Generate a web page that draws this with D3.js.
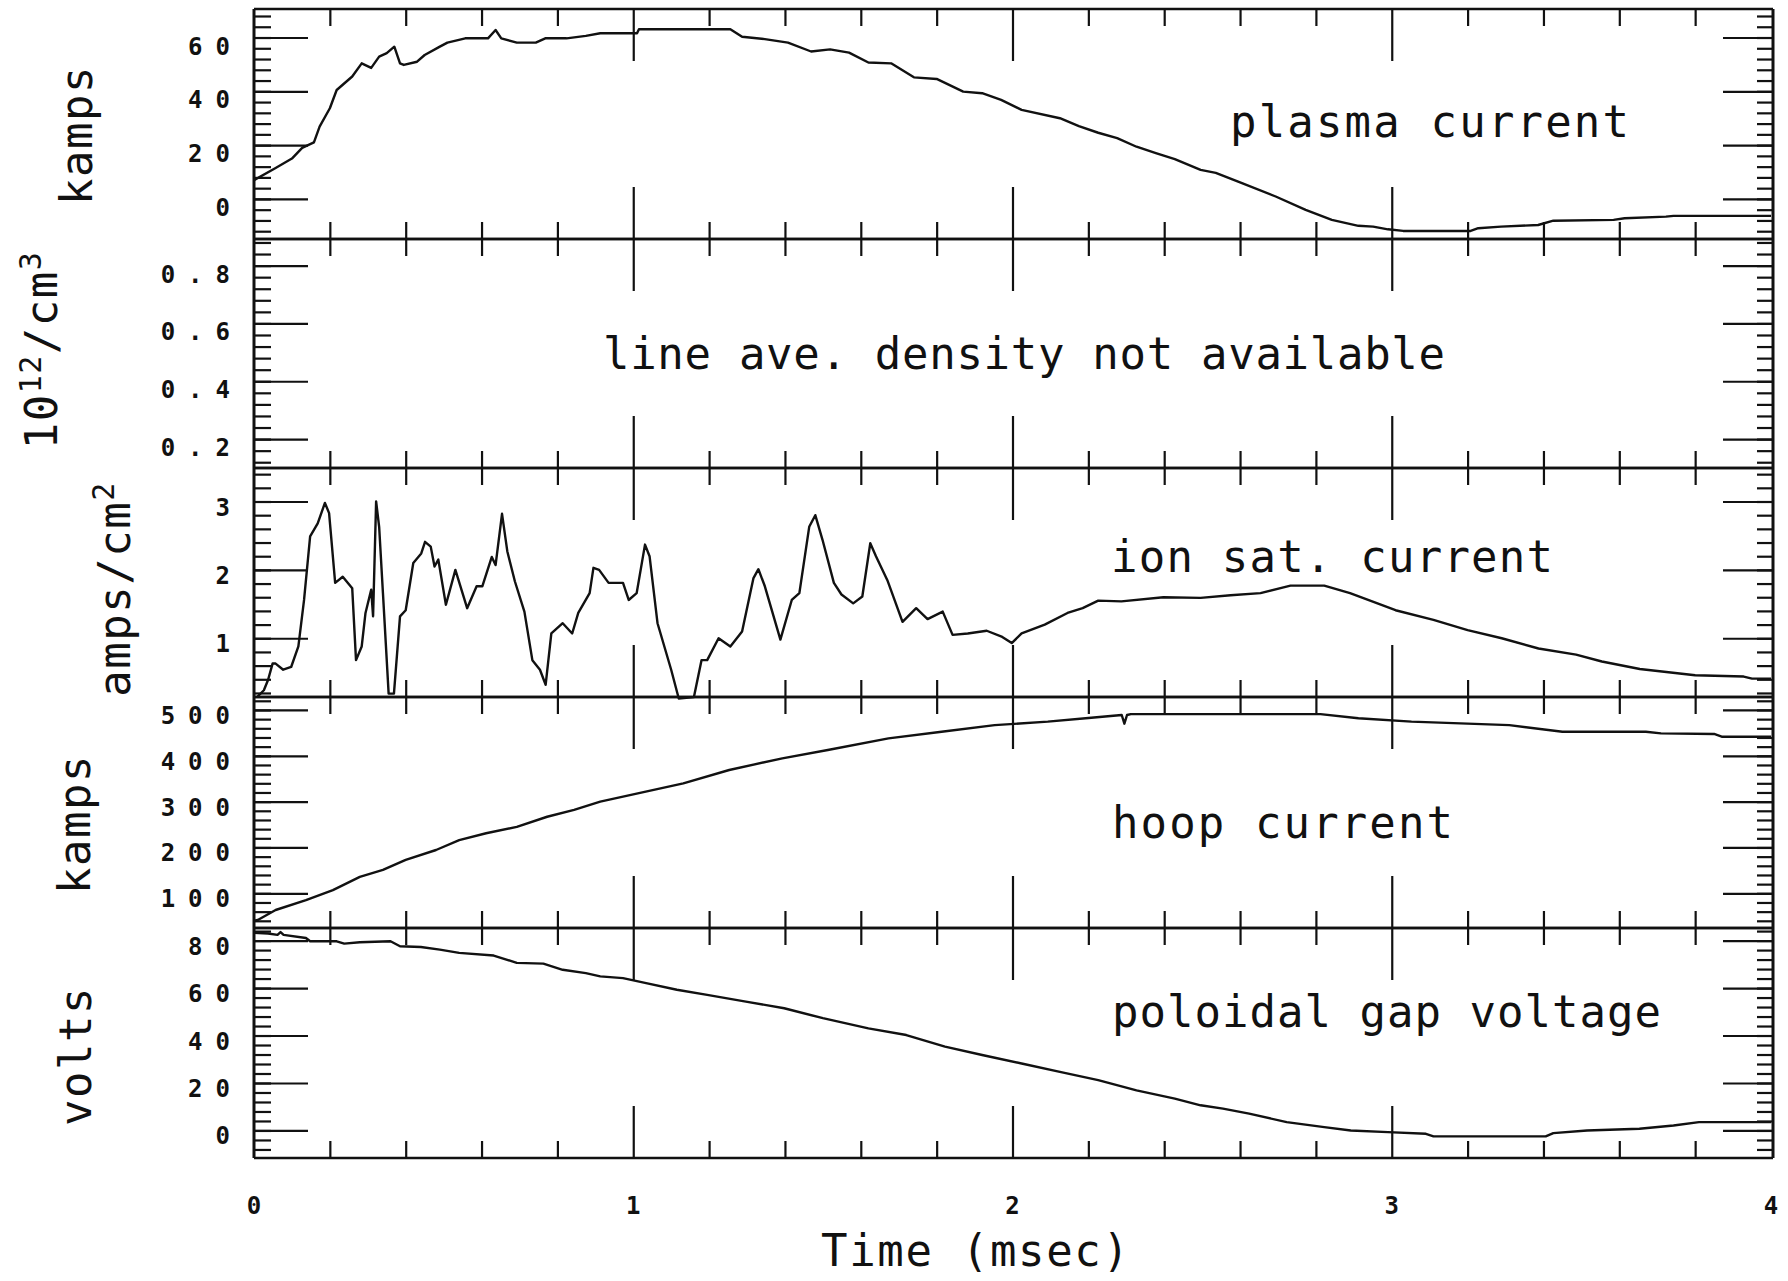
<!DOCTYPE html>
<html><head><meta charset="utf-8">
<script src="https://cdn.jsdelivr.net/npm/d3@7/dist/d3.min.js"></script>
<style>
body{margin:0;background:#fff;}
svg{display:block;background:#fff}
</style>
</head><body>
<svg id="chart" width="1788" height="1281"></svg>
<script>
// ---------------- data (time in msec, value in panel units) ----------------
const timeTicks = [0, 1, 2, 3, 4];
const timeMinorTicks = [0.2,0.4,0.6,0.8,1.2,1.4,1.6,1.8,2.2,2.4,2.6,2.8,3.2,3.4,3.6,3.8];

const plasmaTicks = [0, 20, 40, 60];
const densityTicks = [0.2, 0.4, 0.6, 0.8];
const ionTicks = [1, 2, 3];
const hoopTicks = [100, 200, 300, 400, 500];
const voltTicks = [0, 20, 40, 60, 80];

const plasmaCurrent = [
 [0,7],[0.057,11.5],[0.1,15],[0.127,19],[0.158,21],[0.173,26.9],[0.2,33.7],[0.218,40.5],[0.259,45.5],[0.284,50.4],
 [0.309,48.7],[0.33,52.9],[0.35,54.2],[0.37,56.6],[0.385,50.4],[0.395,49.8],[0.43,51],[0.45,53.5],[0.49,56.6],
 [0.51,58.1],[0.557,59.7],[0.617,59.7],[0.637,62.8],[0.652,59.7],[0.693,58.1],[0.743,58.1],[0.768,59.7],
 [0.824,59.7],[0.875,60.6],[0.913,61.6],[0.973,61.6],[1.01,61.6],[1.015,63.1],[1.256,63.1],[1.287,60.3],
 [1.347,59.4],[1.408,58.1],[1.469,54.8],[1.519,55.6],[1.569,54.4],[1.62,50.7],[1.68,50.4],[1.74,45.2],
 [1.8,44.6],[1.87,39.9],[1.92,39.3],[1.97,36.8],[2.024,33.1],[2.125,30],[2.175,27.1],[2.226,24.6],[2.276,22.6],
 [2.327,19.4],[2.378,17],[2.428,14.8],[2.496,10.8],[2.536,9.7],[2.595,6.4],[2.694,0.9],[2.773,-4.1],
 [2.842,-7.8],[2.912,-10],[2.951,-10.3],[2.99,-11.3],[3.03,-11.9],[3.208,-11.9],[3.228,-10.9],[3.288,-10.3],
 [3.386,-9.7],[3.426,-8.1],[3.585,-7.8],[3.614,-7.2],[3.723,-6.6],[3.743,-6.3],[4.0,-6.3]
];

const ionSatCurrent = [
 [0.008,0.14],[0.026,0.24],[0.037,0.39],[0.049,0.63],[0.057,0.63],[0.077,0.54],[0.098,0.58],[0.117,0.88],
 [0.132,1.56],[0.148,2.49],[0.168,2.68],[0.187,2.98],[0.198,2.83],[0.214,1.81],[0.234,1.9],[0.259,1.73],
 [0.269,0.68],[0.284,0.88],[0.294,1.37],[0.309,1.71],[0.314,1.32],[0.322,3.0],[0.33,2.63],[0.34,1.66],
 [0.355,0.19],[0.369,0.19],[0.385,1.32],[0.4,1.41],[0.42,2.1],[0.441,2.24],[0.451,2.41],[0.466,2.34],
 [0.476,2.05],[0.486,2.15],[0.506,1.49],[0.531,2.0],[0.562,1.44],[0.587,1.76],[0.602,1.76],[0.627,2.19],
 [0.637,2.07],[0.654,2.82],[0.668,2.27],[0.688,1.83],[0.713,1.39],[0.734,0.68],[0.754,0.54],[0.769,0.32],
 [0.784,1.07],[0.814,1.22],[0.839,1.07],[0.855,1.37],[0.885,1.66],[0.895,2.03],[0.91,2.0],[0.935,1.81],
 [0.973,1.81],[0.988,1.56],[1.009,1.66],[1.031,2.37],[1.043,2.2],[1.064,1.22],[1.1,0.54],[1.12,0.12],
 [1.16,0.14],[1.18,0.68],[1.195,0.68],[1.225,1.0],[1.256,0.88],[1.287,1.1],[1.317,1.88],[1.33,2.01],
 [1.347,1.76],[1.388,0.98],[1.418,1.56],[1.438,1.66],[1.464,2.63],[1.48,2.8],[1.499,2.44],[1.529,1.81],
 [1.549,1.64],[1.58,1.51],[1.604,1.61],[1.625,2.39],[1.64,2.2],[1.67,1.85],[1.71,1.24],[1.746,1.44],
 [1.776,1.28],[1.816,1.39],[1.842,1.05],[1.882,1.07],[1.932,1.11],[1.973,1.02],[1.998,0.93],[2.024,1.07],
 [2.085,1.2],[2.145,1.37],[2.185,1.44],[2.226,1.55],[2.287,1.54],[2.398,1.6],[2.496,1.59],[2.575,1.63],
 [2.654,1.66],[2.733,1.77],[2.822,1.77],[2.89,1.66],[3.01,1.41],[3.11,1.27],[3.2,1.12],[3.29,1.0],
 [3.387,0.85],[3.486,0.76],[3.554,0.66],[3.654,0.55],[3.8,0.46],[3.928,0.44],[3.95,0.41],[4.0,0.41]
];

const hoopCurrent = [
 [0,40],[0.01,41.9],[0.057,63.6],[0.137,85],[0.208,107],[0.279,136],[0.34,151],[0.4,173],[0.48,194.5],
 [0.541,216],[0.612,231],[0.693,245],[0.773,267],[0.844,282],[0.913,300],[1.033,321.7],[1.132,340],
 [1.253,369],[1.393,394.5],[1.513,412.7],[1.673,438],[1.813,452.6],[1.953,467],[2.093,474.5],[2.193,481.8],
 [2.288,489],[2.295,470],[2.302,489],[2.312,491],[2.812,491],[2.912,481.8],[3.052,474.5],[3.31,467],
 [3.45,452.6],[3.67,452.6],[3.71,449],[3.85,447.6],[3.87,441.7],[4.0,441.7]
];

const gapVoltage = [
 [0,83.3],[0.037,83],[0.062,82.4],[0.07,83.6],[0.078,82.4],[0.137,81.1],[0.148,79.7],[0.218,79.7],
 [0.238,78.7],[0.279,79.3],[0.36,79.7],[0.385,77.6],[0.44,77.3],[0.49,76.2],[0.541,74.8],[0.632,73.7],
 [0.693,70.6],[0.763,70.3],[0.814,67.7],[0.875,66.3],[0.913,64.9],[0.973,64.2],[1.034,62.1],[1.115,59.3],
 [1.195,57.1],[1.297,54.3],[1.398,51.5],[1.5,47.3],[1.62,43],[1.72,40.2],[1.822,35.3],[1.923,31.7],
 [2.024,28.2],[2.125,24.7],[2.226,21.2],[2.327,16.9],[2.428,13.4],[2.496,10.6],[2.555,9.2],[2.624,7.1],
 [2.723,3.5],[2.822,1.4],[2.892,0],[2.99,-0.7],[3.09,-1.4],[3.11,-2.5],[3.406,-2.5],[3.426,-1.1],
 [3.515,0],[3.653,0.7],[3.743,2.1],[3.81,3.5],[4.0,3.5]
];

const panelTitles = ["plasma current", "line ave. density not available", "ion sat. current", "hoop current", "poloidal gap voltage"];
const axisTitle = "Time (msec)";

// ---------------- layout / style ----------------
const svg = d3.select("#chart");
const INK = "#111";
const x = d3.scaleLinear().domain([0, 4]).range([254, 1771]);
const frameL = 254, frameR = 1773;

const panels = [
  {top: 9,   bottom: 239,  domain: [-14.9, 70.6], ticks: plasmaTicks,  minor: 4,    data: plasmaCurrent, fmt: d3.format("d"),
   title: {x: 1230, y: 137, w: 399}, unit: {x: 92, y: 135}, lab: 10},
  {top: 239, bottom: 468,  domain: [0.1, 0.892],  ticks: densityTicks, minor: 0.04, data: null,          fmt: d3.format(".1f"),
   title: {x: 603, y: 369, w: 842}, unit: {x: 57, y: 350}, lab: 10},
  {top: 468, bottom: 697,  domain: [0.141, 3.49], ticks: ionTicks,     minor: 0.2,  data: ionSatCurrent, fmt: d3.format("d"),
   title: {x: 1111, y: 572, w: 442}, unit: {x: 130, y: 589}, lab: 7},
  {top: 697, bottom: 928,  domain: [24.3, 528.3], ticks: hoopTicks,    minor: 20,   data: hoopCurrent,   fmt: d3.format("d"),
   title: {x: 1112, y: 838, w: 341}, unit: {x: 90, y: 824}, lab: 7},
  {top: 928, bottom: 1158, domain: [-11.6, 85.3], ticks: voltTicks,    minor: 4,    data: gapVoltage,    fmt: d3.format("d"),
   title: {x: 1112, y: 1027, w: 549}, unit: {x: 91, y: 1056}, lab: 7}
];

function minorValues(domain, step) {
  const out = [];
  for (let k = Math.ceil(domain[0] / step - 1e-9); k * step <= domain[1] + 1e-9; k++) out.push(+(k * step).toFixed(6));
  return out;
}

function styleAxis(g) {
  g.select(".domain").remove();
  g.selectAll(".tick line").attr("stroke", INK).attr("stroke-width", 2.2);
  g.selectAll(".tick text").remove();
}

const titleFont = "'DejaVu Sans Mono', 'Liberation Mono', monospace";

panels.forEach((p, i) => {
  const y = d3.scaleLinear().domain(p.domain).range([p.bottom, p.top]);
  const g = svg.append("g");

  // x ticks: top edge (pointing down) and bottom edge (pointing up)
  g.append("g").attr("transform", `translate(0,${p.top})`)
    .call(d3.axisTop(x).tickValues(timeMinorTicks).tickSize(-17)).call(styleAxis);
  g.append("g").attr("transform", `translate(0,${p.top})`)
    .call(d3.axisTop(x).tickValues(timeTicks.slice(1, -1)).tickSize(-52)).call(styleAxis);
  g.append("g").attr("transform", `translate(0,${p.bottom})`)
    .call(d3.axisBottom(x).tickValues(timeMinorTicks).tickSize(-17)).call(styleAxis);
  g.append("g").attr("transform", `translate(0,${p.bottom})`)
    .call(d3.axisBottom(x).tickValues(timeTicks.slice(1, -1)).tickSize(-52)).call(styleAxis);

  // y ticks: left (pointing right) and right (pointing left)
  const minors = minorValues(p.domain, p.minor);
  g.append("g").attr("transform", `translate(${frameL},0)`)
    .call(d3.axisLeft(y).tickValues(minors).tickSize(-17)).call(styleAxis);
  g.append("g").attr("transform", `translate(${frameL},0)`)
    .call(d3.axisLeft(y).tickValues(p.ticks).tickSize(-54)).call(styleAxis);
  g.append("g").attr("transform", `translate(${frameR},0)`)
    .call(d3.axisRight(y).tickValues(minors).tickSize(-16)).call(styleAxis);
  g.append("g").attr("transform", `translate(${frameR},0)`)
    .call(d3.axisRight(y).tickValues(p.ticks).tickSize(-50)).call(styleAxis);

  // y tick labels
  g.append("g").selectAll("text").data(p.ticks).join("text")
    .attr("x", 243).attr("y", d => y(d) + p.lab)
    .attr("text-anchor", "end").attr("dominant-baseline", "middle")
    .attr("font-family", titleFont).attr("font-weight", "bold")
    .attr("font-size", 24).attr("letter-spacing", 13).attr("fill", INK)
    .text(d => p.fmt(d));

  // panel frame
  g.append("line").attr("x1", frameL).attr("x2", frameR).attr("y1", p.top).attr("y2", p.top)
    .attr("stroke", INK).attr("stroke-width", 2.5);
  g.append("line").attr("x1", frameL).attr("x2", frameR).attr("y1", p.bottom).attr("y2", p.bottom)
    .attr("stroke", INK).attr("stroke-width", 2.5);

  // curve
  if (p.data) {
    g.append("path").datum(p.data)
      .attr("fill", "none").attr("stroke", INK).attr("stroke-width", 2.4)
      .attr("stroke-linejoin", "round")
      .attr("d", d3.line().x(d => x(d[0])).y(d => y(d[1])));
  }

  // panel title
  g.append("text").attr("x", p.title.x).attr("y", p.title.y)
    .attr("textLength", p.title.w).attr("lengthAdjust", "spacing")
    .attr("font-family", titleFont).attr("font-size", 44)
    .attr("fill", INK).text(panelTitles[i]);
});

// left / right frame
svg.append("line").attr("x1", frameL).attr("x2", frameL).attr("y1", 9).attr("y2", 1158)
  .attr("stroke", INK).attr("stroke-width", 3);
svg.append("line").attr("x1", frameR).attr("x2", frameR).attr("y1", 9).attr("y2", 1158)
  .attr("stroke", INK).attr("stroke-width", 3);

// unit labels (rotated)
function unitLabel(p, parts) {
  const t = svg.append("text")
    .attr("transform", `translate(${p.unit.x},${p.unit.y}) rotate(-90)`)
    .attr("text-anchor", "middle")
    .attr("font-family", titleFont).attr("font-size", 44).attr("letter-spacing", 1.5)
    .attr("fill", INK);
  parts.forEach(([s, sup]) => {
    t.append("tspan")
      .attr("font-size", sup ? 30 : 44)
      .attr("baseline-shift", sup ? "55%" : "0%")
      .text(s);
  });
}
unitLabel(panels[0], [["kamps", false]]);
unitLabel(panels[1], [["10", false], ["12", true], ["/cm", false], ["3", true]]);
unitLabel(panels[2], [["amps/cm", false], ["2", true]]);
unitLabel(panels[3], [["kamps", false]]);
unitLabel(panels[4], [["volts", false]]);

// time axis labels
svg.append("g").selectAll("text").data(timeTicks).join("text")
  .attr("x", d => x(d)).attr("y", 1207)
  .attr("text-anchor", "middle").attr("dominant-baseline", "middle")
  .attr("font-family", titleFont).attr("font-weight", "bold").attr("font-size", 24)
  .attr("fill", INK).text(d => d);

svg.append("text").attr("x", 821).attr("y", 1266)
  .attr("textLength", 308).attr("lengthAdjust", "spacing")
  .attr("font-family", titleFont).attr("font-size", 44)
  .attr("fill", INK).text(axisTitle);
</script>
</body></html>
